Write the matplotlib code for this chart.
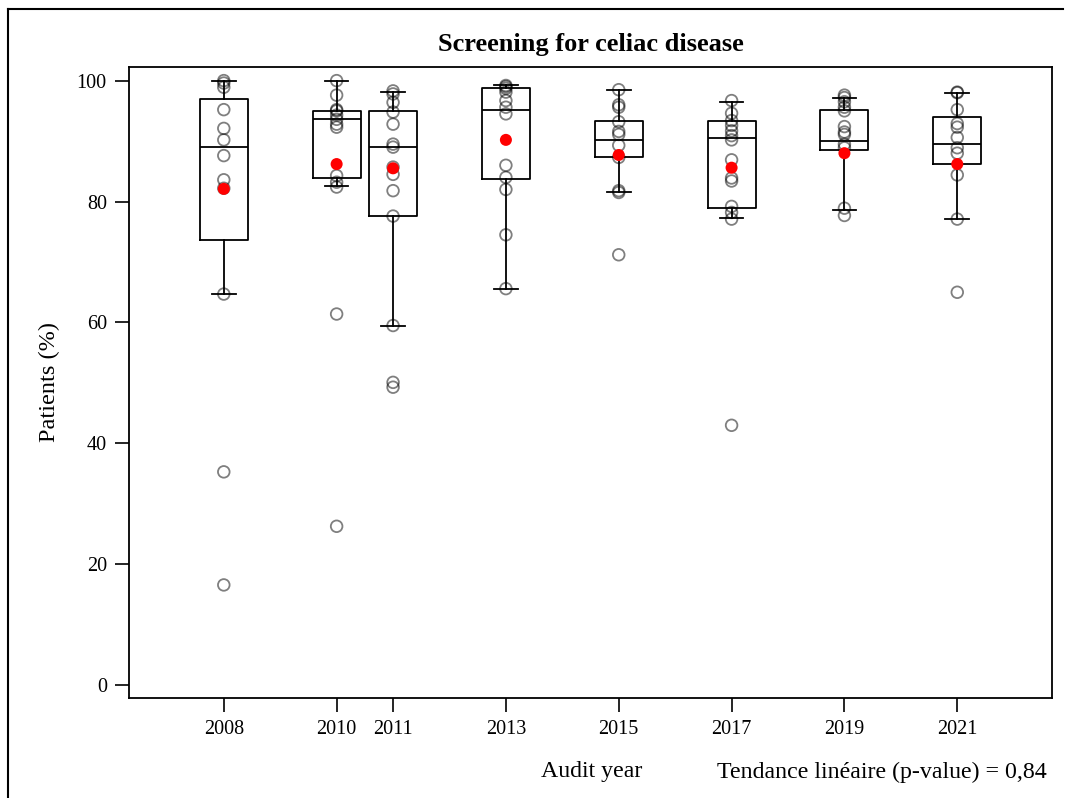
import numpy as np
import matplotlib
matplotlib.use("Agg")
import matplotlib.pyplot as plt
from matplotlib.lines import Line2D

plt.rcParams['font.family'] = ['Liberation Serif', 'DejaVu Serif']

# audit years and box statistics
years = [2008, 2010, 2011, 2013, 2015, 2017, 2019, 2021]
q1 = [73.6, 83.9, 77.6, 83.7, 87.3, 78.9, 88.5, 86.2]
med = [89.0, 93.6, 89.0, 95.2, 90.2, 90.5, 90.0, 89.6]
q3 = [97.0, 94.9, 94.9, 98.8, 93.3, 93.3, 95.1, 94.0]
whislo = [64.7, 82.5, 59.5, 65.6, 81.5, 77.2, 78.6, 77.1]
whishi = [100.0, 100.0, 98.2, 99.2, 98.5, 96.4, 97.2, 98.0]
means = [82.1, 86.2, 85.5, 90.2, 87.7, 85.6, 88.0, 86.2]

# individual centre values
pts_2008 = [100.0, 99.6, 98.9, 95.2, 92.1, 90.2, 87.6, 83.6, 82.2, 64.7, 35.3, 16.6]
pts_2010 = [100.0, 97.6, 95.2, 95.0, 94.3, 93.6, 92.8, 92.3, 84.3, 83.2, 82.4, 61.4, 26.3]
pts_2011 = [98.3, 97.8, 96.4, 94.8, 92.8, 89.5, 89.0, 85.7, 84.5, 81.8, 77.6, 59.5, 50.1, 49.3]
pts_2013 = [99.2, 99.0, 98.7, 98.1, 96.7, 95.6, 94.5, 86.0, 84.0, 82.0, 74.5, 65.6]
pts_2015 = [98.5, 96.0, 95.6, 93.2, 91.6, 91.1, 89.3, 87.3, 81.8, 81.5, 71.2]
pts_2017 = [96.7, 94.6, 93.4, 92.6, 91.7, 90.9, 90.2, 86.9, 83.9, 83.4, 79.2, 78.2, 77.1, 43.0]
pts_2019 = [97.6, 97.2, 96.5, 95.6, 95.0, 92.4, 91.5, 91.1, 89.5, 88.9, 78.9, 77.7]
pts_2021 = [98.1, 98.0, 95.2, 92.9, 92.3, 90.6, 88.9, 88.0, 84.4, 77.1, 65.0]
points = [pts_2008, pts_2010, pts_2011, pts_2013, pts_2015, pts_2017, pts_2019, pts_2021]

yticks = [0, 20, 40, 60, 80, 100]


def main():
    fig = plt.figure(figsize=(10.67, 7.98), dpi=100)
    ax = fig.add_axes([0.1209, 0.1253, 0.8651, 0.7911])

    stats = []
    for i in range(len(years)):
        stats.append(dict(med=med[i], q1=q1[i], q3=q3[i], whislo=whislo[i],
                          whishi=whishi[i], mean=means[i], fliers=[]))
    lp = dict(color='black', linewidth=1.3)
    ax.bxp(stats, positions=years, widths=0.85, showmeans=False, showfliers=False,
           boxprops=lp, medianprops=lp, whiskerprops=lp,
           capprops=lp, capwidths=0.42, manage_ticks=False, zorder=2)

    for yr, p in zip(years, points):
        ax.scatter([yr] * len(p), p, s=70, facecolors='none', edgecolors='black',
                   linewidths=1.3, alpha=0.5, zorder=3)
    ax.scatter(years, means, s=75, color='red', edgecolors='none', zorder=4)

    ax.set_xlim(2006.32, 2022.68)
    ax.set_ylim(-2.1, 102.3)
    ax.set_xticks(years)
    ax.set_xticklabels([str(y) for y in years])
    ax.set_yticks(yticks)
    ax.tick_params(direction='out', length=10, width=1.2, labelsize=14.5, pad=6)
    for s in ax.spines.values():
        s.set_linewidth(1.3)

    ax.set_ylabel('Patients (%)', fontsize=17.5, labelpad=12)
    ax.set_title('Screening for celiac disease', fontsize=19, fontweight='bold', pad=11)
    fig.text(592 / 1067, 1 - 772 / 798, 'Audit year', fontsize=17.2, ha='center', va='center')
    fig.text(1047 / 1067, 1 - 772 / 798, 'Tendance linéaire (p-value) = 0,84',
             fontsize=17.2, ha='right', va='center')

    # frame lines on left and top of the figure
    fig.add_artist(Line2D([8 / 1067, 8 / 1067], [0, 1 - 9 / 798], color='black', linewidth=1.5))
    fig.add_artist(Line2D([8 / 1067, 1063 / 1067], [1 - 9 / 798, 1 - 9 / 798], color='black', linewidth=1.5))

    fig.savefig('out.png', dpi=100)


if __name__ == "__main__":
    main()
